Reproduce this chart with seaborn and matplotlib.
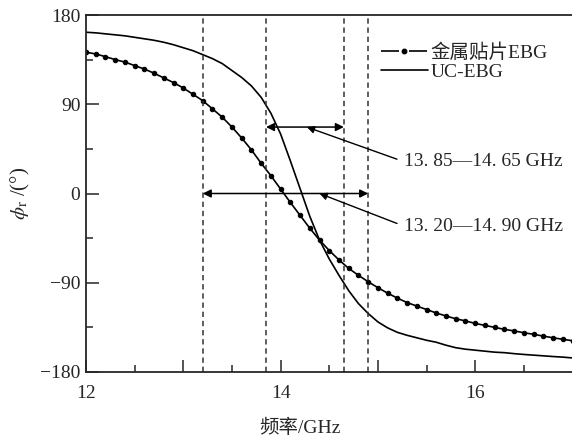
import numpy as np
import pandas as pd
import seaborn as sns
import matplotlib
matplotlib.use("Agg")
import matplotlib.pyplot as plt
from matplotlib.lines import Line2D
from matplotlib.ticker import MultipleLocator

# frequency grid (GHz), one sample every 0.1 GHz
freq = [round(12 + 0.1 * i, 1) for i in range(51)]
phase_patch = [142.5, 140.7, 138, 135, 132.5, 129, 125.5, 121.3, 116.5, 111.8,
               106.4, 100, 93.6, 85.3, 77, 67, 56, 44, 30.5, 18,
               4.5, -9, -22, -35, -47, -57.5, -67, -75.5, -82.5, -89,
               -95, -100.5, -105.5, -110, -113.5, -117, -120.5, -123.5, -126.3, -128.5,
               -131, -133, -135, -137, -138.6, -140.4, -142, -143.8, -145.5, -147,
               -148.5]
phase_uc = [162.6, 162, 161, 160, 159, 157.5, 156, 154.5, 152.5, 150,
            147, 144, 140, 136, 131, 124, 117, 108.5, 97, 81,
            60, 33, 5, -23, -47, -66, -82.5, -98, -111, -121,
            -129.5, -135.5, -140, -143, -145.5, -148, -150, -153, -155.5, -157,
            -158, -159, -160, -160.5, -161.5, -162.3, -163, -163.7, -164.4, -165,
            -165.8]
series_names = ["金属贴片EBG", "UC-EBG"]
band_uc = [13.85, 14.65]
band_patch = [13.20, 14.90]
band_labels = ["13. 85—14. 65 GHz", "13. 20—14. 90 GHz"]

df = pd.DataFrame({"f": freq * 2,
                   "phase": phase_patch + phase_uc,
                   "type": [series_names[0]] * len(freq) + [series_names[1]] * len(freq)})

sns.set_style("ticks")
plt.rcParams["font.family"] = ["Liberation Serif", "Noto Sans CJK SC"]
plt.rcParams["mathtext.fontset"] = "stix"

fig = plt.figure(figsize=(5.72, 4.37), dpi=100)
ax = fig.add_axes([86 / 572, 1 - 372 / 437, 486.5 / 572, 357 / 437])

sns.lineplot(data=df[df["type"] == series_names[0]], x="f", y="phase", ax=ax,
             color="black", lw=1.2, marker="o", ms=3.2, mec="black", legend=False)
sns.lineplot(data=df[df["type"] == series_names[1]], x="f", y="phase", ax=ax,
             color="black", lw=1.2, legend=False)

for b in band_uc + band_patch:
    ax.axvline(b, color="#333333", lw=1.1, ls=(0, (3.5, 2.5)))

ax.set_xlim(12, 17)
ax.set_ylim(-180, 180)
ax.xaxis.set_major_locator(MultipleLocator(1))
ax.xaxis.set_minor_locator(MultipleLocator(0.5))
ax.yaxis.set_major_locator(MultipleLocator(90))
ax.yaxis.set_minor_locator(MultipleLocator(45))
ax.set_xticks([12, 13, 14, 15, 16, 17])
ax.set_xticklabels(["12", "", "14", "", "16", ""])
ax.tick_params(which="major", direction="in", length=9, width=1.1, labelsize=14)
ax.tick_params(axis="x", which="major", pad=9.5)
ax.tick_params(axis="y", which="major", pad=4)
ax.tick_params(which="minor", direction="in", length=5, width=1.1)
for s in ["left", "bottom", "top"]:
    ax.spines[s].set_linewidth(1.3)
ax.spines["right"].set_visible(False)

ax.set_xlabel("频率/GHz", fontsize=14)
ax.xaxis.set_label_coords(0.44, -0.13)
ax.set_ylabel(r"$\phi_\mathrm{r}$ /(°)", fontsize=15, labelpad=6)

# double-headed band arrows
ax.annotate("", xy=(band_uc[0], 67), xytext=(band_uc[1], 67),
            arrowprops=dict(arrowstyle="<|-|>", color="black", lw=1.1,
                            mutation_scale=12, shrinkA=0, shrinkB=0))
ax.annotate("", xy=(band_patch[0], 0), xytext=(band_patch[1], 0),
            arrowprops=dict(arrowstyle="<|-|>", color="black", lw=1.1,
                            mutation_scale=12, shrinkA=0, shrinkB=0))

# labels pointing to the arrows
ax.annotate(band_labels[0], xy=(14.27, 67), xytext=(15.27, 32),
            fontsize=14, ha="left", va="center",
            arrowprops=dict(arrowstyle="-|>", color="black", lw=1.0,
                            mutation_scale=11, shrinkA=3, shrinkB=0,
                            relpos=(0, 0.5)))
ax.annotate(band_labels[1], xy=(14.40, 0), xytext=(15.27, -33),
            fontsize=14, ha="left", va="center",
            arrowprops=dict(arrowstyle="-|>", color="black", lw=1.0,
                            mutation_scale=11, shrinkA=3, shrinkB=0,
                            relpos=(0, 0.5)))

handles = [Line2D([0], [0], color="black", lw=1.2, ls=(0, (10.8, 6)),
                  marker="o", ms=3.2),
           Line2D([0], [0], color="black", lw=1.2)]
fig.legend(handles, series_names, loc="upper left",
           bbox_to_anchor=(381 / 572, 1 - 43 / 437), frameon=False,
           fontsize=14, handlelength=2.4, handletextpad=0.15,
           borderpad=0, borderaxespad=0, labelspacing=0.1, numpoints=1)

fig.savefig("out.png", dpi=100)
